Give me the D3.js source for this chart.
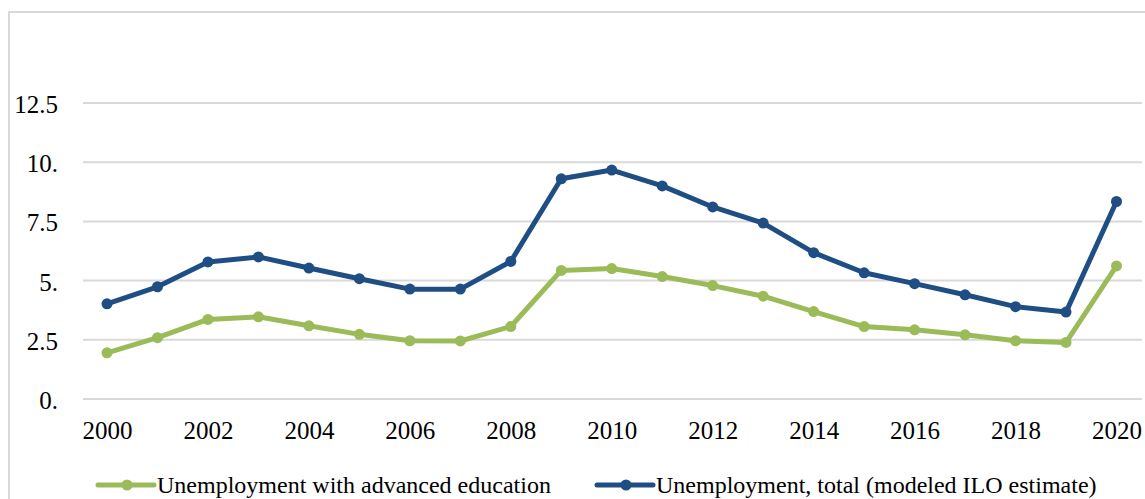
<!DOCTYPE html>
<html>
<head>
<meta charset="utf-8">
<script src="https://cdn.jsdelivr.net/npm/d3@7"></script>
<style>
	body { margin: 0; background: #fff; }
	text { font-family: "Liberation Serif", "Times New Roman", "DejaVu Serif", serif; fill: #000; }
</style>
</head>
<body>
<div id="chart"></div>
<script>
var years = d3.range(2000, 2021);
var advanced = [1.95, 2.59, 3.36, 3.47, 3.09, 2.73, 2.46, 2.45, 3.06, 5.43, 5.51, 5.17, 4.79, 4.34, 3.69, 3.06, 2.92, 2.71, 2.46, 2.39, 5.62];
var total = [4.02, 4.74, 5.79, 6.0, 5.53, 5.08, 4.64, 4.64, 5.81, 9.3, 9.67, 9.0, 8.11, 7.43, 6.18, 5.33, 4.87, 4.4, 3.9, 3.67, 8.34];
var yTicks = [0, 2.5, 5, 7.5, 10, 12.5];
var yTickLabels = ["0.", "2.5", "5.", "7.5", "10.", "12.5"];
var xTicks = d3.range(2000, 2021, 2);
var seriesNames = ["Unemployment with advanced education", "Unemployment, total (modeled ILO estimate)"];

var W = 1145, H = 499;
var green = "#9bbb59", blue = "#1f4e85";
var serif = '"Liberation Serif", "Times New Roman", "DejaVu Serif", serif';

var svg = d3.select("#chart").append("svg")
	.attr("width", W)
	.attr("height", H);

// chart border (right and bottom sides fall outside the picture)
svg.append("rect")
	.attr("x", 9).attr("y", 12)
	.attr("width", W + 20).attr("height", H + 20)
	.attr("fill", "none")
	.attr("stroke", "#d9d9d9")
	.attr("stroke-width", 2);

// set the ranges
var x = d3.scaleLinear().domain([2000, 2020]).range([107, 1116.5]);
var y = d3.scaleLinear().domain([0, 15]).range([399, 399 - 6 * 59.2]);

// gridlines
svg.append("g")
	.selectAll("line")
	.data(yTicks)
	.join("line")
	.attr("x1", 83).attr("x2", 1142)
	.attr("y1", function(d) { return y(d); })
	.attr("y2", function(d) { return y(d); })
	.attr("stroke", "#d9d9d9")
	.attr("stroke-width", 2);

// y axis labels
var yAxis = svg.append("g")
	.attr("transform", "translate(58,0)")
	.call(d3.axisLeft(y).tickValues(yTicks).tickSize(0).tickPadding(0)
		.tickFormat(function(d, i) { return yTickLabels[i]; }));
yAxis.select(".domain").remove();
yAxis.attr("font-family", serif);
yAxis.selectAll("text")
	.style("font-family", serif)
	.style("font-size", "25px")
	.attr("dy", "0.38em");

// x axis labels
var xAxis = svg.append("g")
	.attr("transform", "translate(0,421)")
	.call(d3.axisBottom(x).tickValues(xTicks).tickSize(0).tickPadding(0)
		.tickFormat(d3.format("d")));
xAxis.select(".domain").remove();
xAxis.attr("font-family", serif);
xAxis.selectAll("text")
	.style("font-family", serif)
	.style("font-size", "25px")
	.attr("dy", "0.71em");

// lines and markers
var valueline = d3.line()
	.x(function(d, i) { return x(years[i]); })
	.y(function(d) { return y(d); });

[[advanced, green], [total, blue]].forEach(function(s) {
	svg.append("path")
		.datum(s[0])
		.attr("d", valueline)
		.attr("fill", "none")
		.attr("stroke", s[1])
		.attr("stroke-width", 5)
		.attr("stroke-linejoin", "round");
	svg.append("g")
		.selectAll("circle")
		.data(s[0])
		.join("circle")
		.attr("cx", function(d, i) { return x(years[i]); })
		.attr("cy", function(d) { return y(d); })
		.attr("r", 5.5)
		.attr("fill", s[1]);
});

// legend
var legend = svg.append("g");
[[98, green], [597, blue]].forEach(function(l, i) {
	var g = legend.append("g").attr("transform", "translate(" + l[0] + ",485)");
	g.append("line")
		.attr("x1", 0).attr("x2", 56)
		.attr("stroke", l[1])
		.attr("stroke-width", 5)
		.attr("stroke-linecap", "round");
	g.append("circle")
		.attr("cx", 29).attr("r", 5.5)
		.attr("fill", l[1]);
	g.append("text")
		.attr("x", 59)
		.attr("dy", "0.32em")
		.style("font-family", serif)
		.style("font-size", "24px")
		.text(seriesNames[i]);
});
</script>
</body>
</html>
